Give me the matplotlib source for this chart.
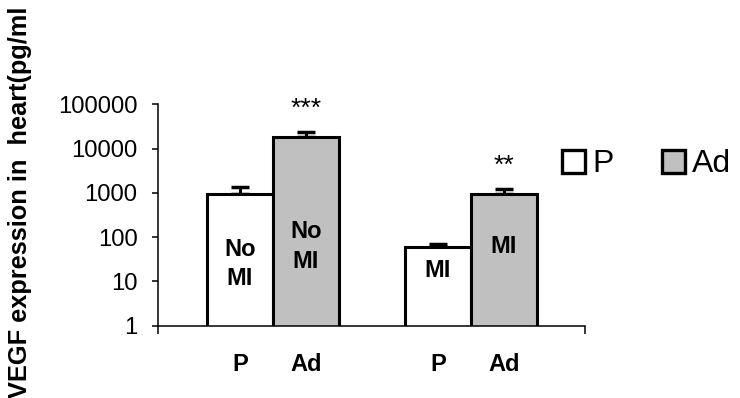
import numpy as np
import matplotlib
matplotlib.use("Agg")
import matplotlib.pyplot as plt
from matplotlib.patches import Patch

plt.rcParams['font.family'] = ['Liberation Sans', 'DejaVu Sans']

# data (log scale)
groups = ['No MI', 'MI']
bar_labels = ['P', 'Ad']
p_vals = [920, 59]
p_err = [440, 12]
ad_vals = [18000, 920]
ad_err = [5800, 290]
inside_p = ['No\nMI', 'MI']
inside_ad = ['No\nMI', 'MI']
stars_ad = ['***', '**']
yticks = [1, 10, 100, 1000, 10000, 100000]

fig = plt.figure(figsize=(7.4, 3.98), dpi=100)
ax = fig.add_axes([158 / 740, 1 - 325.7 / 398, 427 / 740, (325.7 - 104.3) / 398])

x = np.arange(len(groups))
w = 1 / 3
xp = x - w / 2
xa = x + w / 2

ax.bar(xp, p_vals, w, color='white', edgecolor='black', linewidth=2.2, zorder=2)
ax.bar(xa, ad_vals, w, color='#c0c0c0', edgecolor='black', linewidth=2.2, zorder=2)
ax.errorbar(xp, p_vals, yerr=[np.zeros(len(p_vals)), p_err], fmt='none',
            ecolor='black', elinewidth=2.2, capsize=6.5, capthick=2.5, zorder=1)
ax.errorbar(xa, ad_vals, yerr=[np.zeros(len(ad_vals)), ad_err], fmt='none',
            ecolor='black', elinewidth=2.2, capsize=6.5, capthick=2.5, zorder=1)

ax.set_yscale('log')
ax.set_ylim(1, 100000)
ax.set_xlim(-0.581, 1.576)
ax.set_yticks(yticks)
ax.set_yticklabels([str(t) for t in yticks], fontsize=17.2)
ax.yaxis.set_minor_locator(matplotlib.ticker.NullLocator())
ax.tick_params(axis='y', length=4.3, width=1.1, pad=10.5)

ax.set_xticks(np.concatenate([xp, xa]))
ax.set_xticklabels([bar_labels[0]] * len(groups) + [bar_labels[1]] * len(groups),
                   fontsize=17, fontweight='bold')
ax.tick_params(axis='x', length=0, pad=20)
# small ticks at both ends of the category axis
ax.set_xticks([-0.581, 1.576], minor=True)
ax.tick_params(axis='x', which='minor', length=5.5, width=1.1)

for s in ['top', 'right']:
    ax.spines[s].set_visible(False)
for s in ['left', 'bottom']:
    ax.spines[s].set_linewidth(1.1)

# labels inside the bars and significance stars
in_y_p = [25, 18]
in_y_a = [61, 60]
for i in range(len(groups)):
    ax.text(xp[i], in_y_p[i], inside_p[i], ha='center', va='center',
            fontsize=17, fontweight='bold', linespacing=1.35)
    ax.text(xa[i], in_y_a[i], inside_ad[i], ha='center', va='center',
            fontsize=17, fontweight='bold', linespacing=1.35)
    ax.annotate(stars_ad[i], (xa[i], ad_vals[i] + ad_err[i]), xytext=(0, 8),
                textcoords='offset points', ha='center', va='bottom', fontsize=19)

fig.text(20 / 740, 0.5 / 398, 'VEGF expression in  heart(pg/ml', rotation=90,
         ha='center', va='bottom', fontsize=18.3, fontweight='bold')

handles = [Patch(facecolor='white', edgecolor='black', linewidth=2.4),
           Patch(facecolor='#c0c0c0', edgecolor='black', linewidth=2.4)]
fig.legend(handles, bar_labels, loc='center left', bbox_to_anchor=(562 / 740, 1 - 164.5 / 398),
           ncol=2, frameon=False, fontsize=23, handlelength=0.72, handleheight=0.72,
           handletextpad=0.23, columnspacing=1.5, borderpad=0, borderaxespad=0)

fig.savefig('out.png', dpi=100)
